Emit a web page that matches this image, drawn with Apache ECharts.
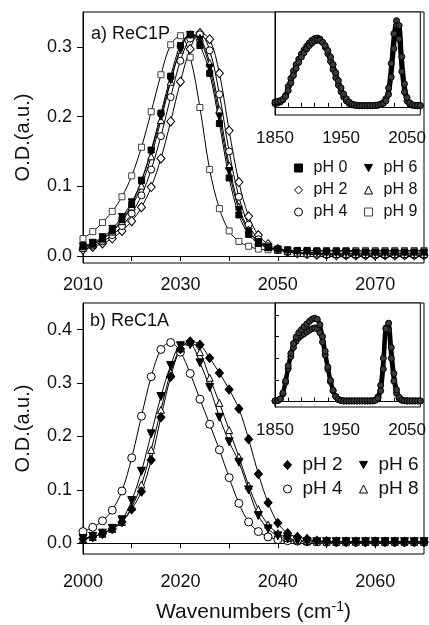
<!DOCTYPE html>
<html><head><meta charset="utf-8">
<script src="https://cdn.jsdelivr.net/npm/echarts@6/dist/echarts.min.js"></script>
<style>html,body{margin:0;padding:0;background:#fff}#c{width:429px;height:625px}</style>
</head><body><div id="c"></div>
<script>
// ---------- data ----------
const xsTop = [2010,2012,2014,2016,2018,2020,2022,2024,2026,2028,2030,2032,2034,2036,2038,2040,2042,2044,2046,2048,2050,2052,2054,2056,2058,2060,2062,2064,2066,2068,2070,2072,2074,2076,2078,2080];
const topPH0 = [0.014,0.018,0.025,0.036,0.052,0.074,0.108,0.152,0.205,0.258,0.302,0.318,0.302,0.262,0.190,0.112,0.059,0.031,0.018,0.012,0.010,0.009,0.008,0.008,0.007,0.007,0.007,0.007,0.006,0.006,0.006,0.006,0.006,0.006,0.006,0.006];
const topPH2 = [0.009,0.013,0.018,0.025,0.036,0.050,0.070,0.099,0.140,0.193,0.250,0.297,0.320,0.311,0.262,0.180,0.106,0.057,0.030,0.017,0.010,0.006,0.004,0.003,0.002,0.002,0.001,0.001,0.001,0.001,0.001,0.001,0.001,0.001,0.001,0.001];
const topPH4 = [0.011,0.015,0.021,0.030,0.043,0.061,0.087,0.124,0.172,0.228,0.280,0.312,0.318,0.295,0.232,0.150,0.085,0.045,0.024,0.014,0.009,0.006,0.004,0.003,0.002,0.002,0.002,0.001,0.001,0.001,0.001,0.001,0.001,0.001,0.001,0.001];
const topPH6 = [0.014,0.019,0.027,0.039,0.056,0.077,0.108,0.150,0.200,0.252,0.296,0.317,0.310,0.270,0.200,0.122,0.066,0.035,0.020,0.012,0.009,0.007,0.006,0.005,0.005,0.004,0.004,0.004,0.004,0.004,0.004,0.004,0.004,0.004,0.004,0.004];
const topPH8 = [0.012,0.017,0.024,0.035,0.050,0.071,0.101,0.143,0.195,0.250,0.296,0.318,0.313,0.277,0.210,0.130,0.071,0.038,0.021,0.013,0.009,0.007,0.005,0.004,0.004,0.003,0.003,0.003,0.003,0.003,0.003,0.003,0.003,0.003,0.003,0.003];
const topPH9 = [0.025,0.035,0.048,0.064,0.085,0.115,0.156,0.207,0.260,0.303,0.316,0.285,0.213,0.124,0.068,0.036,0.021,0.014,0.010,0.009,0.009,0.008,0.008,0.008,0.008,0.008,0.008,0.008,0.008,0.008,0.008,0.008,0.008,0.008,0.008,0.008];

const xsBot = [2000,2002,2004,2006,2008,2010,2012,2014,2016,2018,2020,2022,2024,2026,2028,2030,2032,2034,2036,2038,2040,2042,2044,2046,2048,2050,2052,2054,2056,2058,2060,2062,2064,2066,2068,2070];
const botPH2 = [0.008,0.012,0.018,0.027,0.040,0.064,0.097,0.156,0.236,0.312,0.364,0.378,0.372,0.347,0.319,0.288,0.252,0.195,0.130,0.076,0.038,0.019,0.012,0.008,0.005,0.004,0.003,0.003,0.003,0.003,0.003,0.003,0.003,0.003,0.003,0.003];
const botPH4 = [0.022,0.030,0.042,0.062,0.098,0.160,0.238,0.312,0.363,0.376,0.358,0.318,0.270,0.223,0.175,0.123,0.075,0.040,0.022,0.012,0.007,0.005,0.004,0.003,0.003,0.002,0.002,0.002,0.002,0.002,0.002,0.002,0.002,0.002,0.002,0.002];
const botPH6 = [0.009,0.013,0.019,0.028,0.044,0.080,0.135,0.205,0.275,0.333,0.370,0.372,0.338,0.292,0.236,0.190,0.152,0.100,0.052,0.027,0.014,0.008,0.005,0.003,0.003,0.003,0.003,0.003,0.003,0.003,0.003,0.003,0.003,0.003,0.003,0.003];
const botPH8 = [0.008,0.012,0.018,0.027,0.040,0.068,0.110,0.175,0.250,0.320,0.365,0.377,0.358,0.310,0.263,0.212,0.162,0.108,0.064,0.035,0.019,0.010,0.006,0.004,0.003,0.003,0.003,0.003,0.003,0.003,0.003,0.003,0.003,0.003,0.003,0.003];

const xsInset = [1850,1854,1858,1862,1866,1870,1874,1878,1882,1886,1890,1894,1898,1902,1906,1910,1914,1918,1922,1926,1930,1934,1938,1942,1946,1950,1954,1958,1962,1966,1970,1974,1978,1982,1986,1990,1994,1998,2002,2006,2010,2014,2018,2022,2026,2030,2034,2038,2042,2046,2050,2054,2058,2062,2066,2070];
const insetTopA = [0.012,0.014,0.018,0.026,0.042,0.075,0.105,0.132,0.156,0.176,0.195,0.210,0.224,0.236,0.246,0.252,0.254,0.250,0.238,0.220,0.196,0.168,0.138,0.108,0.080,0.056,0.036,0.022,0.013,0.008,0.006,0.005,0.004,0.004,0.004,0.004,0.004,0.004,0.005,0.006,0.009,0.016,0.030,0.070,0.160,0.270,0.318,0.250,0.130,0.055,0.022,0.010,0.006,0.005,0.004,0.004];
const insetTopB = [0.018,0.020,0.023,0.028,0.038,0.060,0.088,0.116,0.142,0.164,0.184,0.200,0.214,0.226,0.236,0.243,0.246,0.245,0.238,0.226,0.208,0.184,0.156,0.126,0.097,0.070,0.047,0.030,0.018,0.011,0.008,0.006,0.005,0.005,0.005,0.005,0.005,0.005,0.006,0.007,0.009,0.013,0.022,0.046,0.110,0.215,0.300,0.300,0.185,0.085,0.034,0.015,0.008,0.006,0.005,0.005];
const insetBotU = [0.003,0.005,0.012,0.040,0.095,0.165,0.222,0.268,0.298,0.318,0.332,0.345,0.358,0.370,0.380,0.385,0.380,0.355,0.300,0.232,0.160,0.098,0.052,0.024,0.010,0.005,0.003,0.003,0.003,0.003,0.003,0.003,0.003,0.003,0.003,0.003,0.003,0.003,0.006,0.016,0.050,0.150,0.335,0.362,0.250,0.130,0.055,0.020,0.008,0.004,0.003,0.003,0.003,0.003,0.003,0.003];
const insetBotL = [0.003,0.005,0.012,0.036,0.088,0.152,0.208,0.250,0.278,0.295,0.305,0.313,0.321,0.329,0.336,0.340,0.336,0.318,0.275,0.215,0.150,0.092,0.050,0.023,0.010,0.005,0.003,0.003,0.003,0.003,0.003,0.003,0.003,0.003,0.003,0.003,0.003,0.004,0.008,0.022,0.075,0.200,0.340,0.330,0.200,0.095,0.038,0.015,0.006,0.004,0.003,0.003,0.003,0.003,0.003,0.003];

const topYTicks = [0, 0.1, 0.2, 0.3];
const botYTicks = [0, 0.1, 0.2, 0.3, 0.4];
const topXLabels = [2010, 2030, 2050, 2070];
const topXTicks = [2010, 2020, 2030, 2040, 2050, 2060, 2070];
const botXLabels = [2000, 2020, 2040, 2060];
const botXTicks = [2000, 2010, 2020, 2030, 2040, 2050, 2060];
const insetXLabels = [1850, 1950, 2050];
const insetXTicks = [1850, 1870, 1890, 1910, 1930, 1950, 1970, 1990, 2010, 2030, 2050, 2070];
const insetBotYTicks = [0.1, 0.2, 0.3, 0.4];

// ---------- chart ----------
const FONT = '"Liberation Sans", Arial, Helvetica, sans-serif';
const INK = '#111';
const chart = echarts.init(document.getElementById('c'), null, {renderer: 'canvas'});

function pts(xs, ys) { return xs.map((x, i) => [x, ys[i]]); }
function ser(name, xs, ys, xi, yi, sym, size, fill, stroke, rot) {
  return {
    type: 'line', name: name, xAxisIndex: xi, yAxisIndex: yi,
    data: pts(xs, ys), smooth: 0.35,
    symbol: sym, symbolSize: size, symbolRotate: rot || 0, showSymbol: true,
    lineStyle: {color: '#000', width: 1},
    itemStyle: {color: fill, borderColor: stroke, borderWidth: 1},
    emphasis: {disabled: true}, silent: true, z: 3
  };
}
function inset(name, xs, ys, xi, yi) {
  return {
    type: 'line', name: name, xAxisIndex: xi, yAxisIndex: yi,
    data: pts(xs, ys), smooth: 0.3,
    symbol: 'circle', symbolSize: 6,
    lineStyle: {color: '#000', width: 4},
    itemStyle: {color: '#3a3a3a', borderColor: '#000', borderWidth: 1},
    emphasis: {disabled: true}, silent: true, z: 3
  };
}
const axLine = {show: true, lineStyle: {color: '#000', width: 1}};
const lblStyle = {fontFamily: FONT, fontSize: 18, color: INK};

function mainX(grid, min, max, labels, ticks, margin, extra) {
  return Object.assign({
    type: 'value', gridIndex: grid, min: min, max: max, position: 'bottom',
    axisLine: axLine, splitLine: {show: false},
    axisTick: {show: true, inside: false, length: 5, customValues: ticks, lineStyle: {color: '#000'}},
    axisLabel: Object.assign({show: true, margin: margin, customValues: labels, formatter: v => String(v)}, lblStyle)
  }, extra || {});
}
function mainY(grid, min, max, ticks, extra) {
  return Object.assign({
    type: 'value', gridIndex: grid, min: min, max: max,
    axisLine: axLine, splitLine: {show: false},
    axisTick: {show: true, inside: false, length: 6, customValues: ticks, lineStyle: {color: '#000'}},
    axisLabel: Object.assign({show: true, margin: 11, customValues: ticks, formatter: v => v.toFixed(1)}, lblStyle),
    name: 'O.D.(a.u.)', nameLocation: 'middle', nameGap: 50, nameRotate: 90,
    nameTextStyle: {fontFamily: FONT, fontSize: 20, color: INK}
  }, extra || {});
}
function insetX(grid) {
  return {
    type: 'value', gridIndex: grid, min: 1850, max: 2070, position: 'bottom',
    axisLine: axLine, splitLine: {show: false},
    axisTick: {show: true, inside: true, length: 4, customValues: insetXTicks, lineStyle: {color: '#000'}},
    axisLabel: Object.assign({show: true, margin: 15, customValues: insetXLabels, formatter: v => String(v)}, lblStyle, {fontSize: 17})
  };
}

const option = {
  animation: false,
  backgroundColor: '#fff',
  grid: [
    {left: 83, top: 12, width: 341, height: 251, show: true, borderColor: '#000', borderWidth: 1, backgroundColor: 'transparent'},
    {left: 275, top: 12, width: 149, height: 103, show: true, borderColor: '#000', borderWidth: 1, backgroundColor: '#fff'},
    {left: 83, top: 303, width: 341, height: 252, show: true, borderColor: '#000', borderWidth: 1, backgroundColor: 'transparent'},
    {left: 275, top: 303, width: 149, height: 104, show: true, borderColor: '#000', borderWidth: 1, backgroundColor: '#fff'}
  ],
  xAxis: [
    mainX(0, 2010, 2080, topXLabels, topXTicks, 13),
    insetX(1),
    mainX(2, 2000, 2070, botXLabels, botXTicks, 19, {
      name: 'Wavenumbers (cm{sup|-1})', nameLocation: 'middle', nameGap: 46,
      nameTextStyle: {fontFamily: FONT, fontSize: 21, color: INK, lineHeight: 24,
        rich: {sup: {fontFamily: FONT, fontSize: 14, color: INK, verticalAlign: 'top', lineHeight: 12}}}
    }),
    insetX(3)
  ],
  yAxis: [
    mainY(0, -0.01, 0.35, topYTicks),
    {type: 'value', gridIndex: 1, min: -0.03, max: 0.35, axisLine: axLine, axisTick: {show: false}, axisLabel: {show: false}, splitLine: {show: false}},
    mainY(2, -0.02, 0.45, botYTicks),
    {type: 'value', gridIndex: 3, min: -0.025, max: 0.455, axisLine: axLine,
     axisTick: {show: true, inside: true, length: 4, customValues: insetBotYTicks, lineStyle: {color: '#000'}},
     axisLabel: {show: false}, splitLine: {show: false}}
  ],
  legend: [
    {data: [
        {name: 'pH 0', icon: 'rect', itemStyle: {color: '#000', borderColor: '#000', borderWidth: 1}},
        {name: 'pH 2', icon: 'diamond', itemStyle: {color: '#fff', borderColor: '#000', borderWidth: 1}},
        {name: 'pH 4', icon: 'circle', itemStyle: {color: '#fff', borderColor: '#000', borderWidth: 1}}],
     orient: 'vertical', left: 294, top: 159, itemWidth: 8, itemHeight: 8, itemGap: 4, padding: 0, selectedMode: false,
     textStyle: {fontFamily: FONT, fontSize: 16, lineHeight: 18, color: INK, padding: [0, 0, 0, 6]}},
    {data: [
        {name: 'pH 6', icon: 'path://M0,0 L10,0 L5,9 Z', itemStyle: {color: '#000', borderColor: '#000', borderWidth: 1}},
        {name: 'pH 8', icon: 'triangle', itemStyle: {color: '#fff', borderColor: '#000', borderWidth: 1}},
        {name: 'pH 9', icon: 'rect', itemStyle: {color: '#fff', borderColor: '#444', borderWidth: 1}}],
     orient: 'vertical', left: 364, top: 159, itemWidth: 8, itemHeight: 8, itemGap: 4, padding: 0, selectedMode: false,
     textStyle: {fontFamily: FONT, fontSize: 16, lineHeight: 18, color: INK, padding: [0, 0, 0, 6]}},
    {data: [
        {name: 'b:pH 2', icon: 'diamond', itemStyle: {color: '#000', borderColor: '#000', borderWidth: 1}},
        {name: 'b:pH 4', icon: 'circle', itemStyle: {color: '#fff', borderColor: '#000', borderWidth: 1}}],
     formatter: n => n.slice(2),
     orient: 'vertical', left: 283, top: 455, itemWidth: 8, itemHeight: 9, itemGap: 4, padding: 0, selectedMode: false,
     textStyle: {fontFamily: FONT, fontSize: 19, lineHeight: 20, color: INK, padding: [0, 0, 0, 6]}},
    {data: [
        {name: 'b:pH 6', icon: 'path://M0,0 L10,0 L5,9 Z', itemStyle: {color: '#000', borderColor: '#000', borderWidth: 1}},
        {name: 'b:pH 8', icon: 'triangle', itemStyle: {color: '#fff', borderColor: '#000', borderWidth: 1}}],
     formatter: n => n.slice(2),
     orient: 'vertical', left: 359, top: 455, itemWidth: 8, itemHeight: 8, itemGap: 4, padding: 0, selectedMode: false,
     textStyle: {fontFamily: FONT, fontSize: 19, lineHeight: 20, color: INK, padding: [0, 0, 0, 6]}}
  ],
  graphic: [
    {type: 'text', left: 91, top: 25, style: {text: 'a) ReC1P', font: '18px "Liberation Sans", Arial, sans-serif', fill: INK}, z: 10},
    {type: 'text', left: 90, top: 312, style: {text: 'b) ReC1A', font: '18px "Liberation Sans", Arial, sans-serif', fill: INK}, z: 10}
  ],
  series: [
    ser('pH 9', xsTop, topPH9, 0, 0, 'rect', 6, '#fff', '#444'),
    ser('pH 2', xsTop, topPH2, 0, 0, 'diamond', [8, 9], '#fff', '#000'),
    ser('pH 4', xsTop, topPH4, 0, 0, 'circle', 7, '#fff', '#000'),
    ser('pH 8', xsTop, topPH8, 0, 0, 'triangle', 7, '#fff', '#000'),
    ser('pH 6', xsTop, topPH6, 0, 0, 'triangle', 7, '#000', '#000', 180),
    ser('pH 0', xsTop, topPH0, 0, 0, 'rect', 6, '#000', '#000'),
    inset('topA', xsInset, insetTopA, 1, 1),
    inset('topB', xsInset, insetTopB, 1, 1),
    ser('b:pH 4', xsBot, botPH4, 2, 2, 'circle', 8, '#fff', '#000'),
    ser('b:pH 8', xsBot, botPH8, 2, 2, 'triangle', 7, '#fff', '#000'),
    ser('b:pH 6', xsBot, botPH6, 2, 2, 'triangle', 8, '#000', '#000', 180),
    ser('b:pH 2', xsBot, botPH2, 2, 2, 'diamond', [8, 9], '#000', '#000'),
    inset('botL', xsInset, insetBotL, 3, 3),
    inset('botU', xsInset, insetBotU, 3, 3)
  ]
};
chart.setOption(option);
</script>
</body></html>
